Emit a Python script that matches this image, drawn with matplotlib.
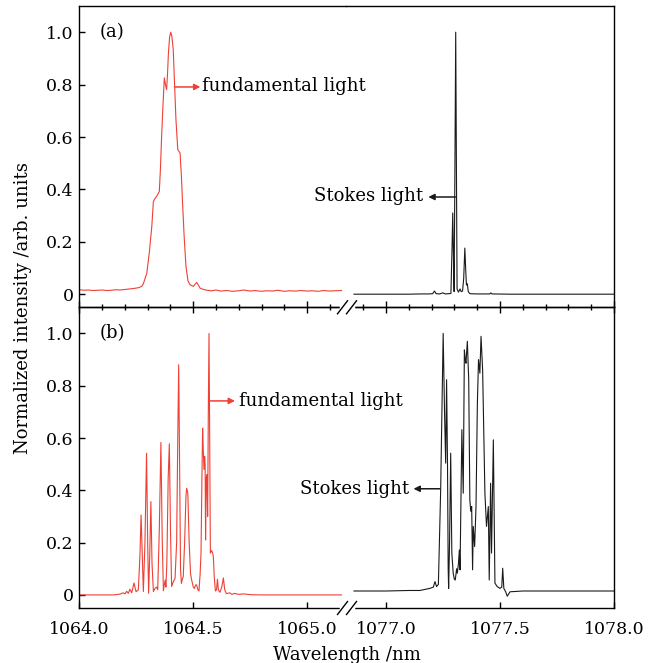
import matplotlib
matplotlib.use("Agg")
import matplotlib.pyplot as plt
from matplotlib.ticker import MultipleLocator, FixedLocator, FixedFormatter
from matplotlib.lines import Line2D

plt.rcParams['font.family'] = ['DejaVu Serif']

# ---- data ----
# (a) fundamental light (red), 1064 nm band
red_a_x = [1064.00, 1064.02, 1064.04, 1064.06, 1064.08, 1064.10, 1064.12, 1064.14,
           1064.16, 1064.18, 1064.20, 1064.22, 1064.24, 1064.26, 1064.274, 1064.281,
           1064.296, 1064.307, 1064.318, 1064.325, 1064.332, 1064.339, 1064.351,
           1064.356, 1064.361, 1064.367, 1064.373, 1064.378, 1064.383, 1064.387,
           1064.391, 1064.396, 1064.401, 1064.406, 1064.412, 1064.418, 1064.424,
           1064.432, 1064.442, 1064.448, 1064.453, 1064.460, 1064.468, 1064.477,
           1064.486, 1064.500, 1064.508, 1064.515, 1064.522, 1064.530, 1064.545,
           1064.56, 1064.58, 1064.60, 1064.62, 1064.65, 1064.67, 1064.70, 1064.72,
           1064.75, 1064.77, 1064.80, 1064.82, 1064.85, 1064.87, 1064.90, 1064.92,
           1064.95, 1064.97, 1065.00, 1065.02, 1065.05, 1065.07, 1065.10, 1065.12,
           1065.15]
red_a_y = [0.017, 0.015, 0.016, 0.014, 0.015, 0.016, 0.014, 0.015,
           0.017, 0.016, 0.018, 0.020, 0.022, 0.025, 0.030, 0.040,
           0.080, 0.158, 0.258, 0.354, 0.365, 0.373, 0.392,
           0.480, 0.600, 0.720, 0.826, 0.800, 0.781, 0.840,
           0.920, 0.980, 1.000, 0.985, 0.934, 0.800, 0.666,
           0.552, 0.539, 0.450, 0.348, 0.220, 0.106, 0.050,
           0.036, 0.030, 0.038, 0.045, 0.035, 0.023, 0.018,
           0.015, 0.013, 0.016, 0.012, 0.014, 0.011, 0.013, 0.016,
           0.012, 0.014, 0.011, 0.013, 0.012, 0.015, 0.011, 0.013,
           0.012, 0.014, 0.012, 0.013, 0.011, 0.014, 0.012, 0.013,
           0.014]

# (a) Stokes light (black), 1077 nm band
blk_a_x = [1076.86, 1077.00, 1077.10, 1077.15, 1077.19, 1077.205, 1077.213, 1077.220,
           1077.235, 1077.250, 1077.260, 1077.275, 1077.285, 1077.290, 1077.293,
           1077.296, 1077.299, 1077.303, 1077.306, 1077.309, 1077.312, 1077.318,
           1077.325, 1077.330, 1077.336, 1077.341, 1077.346, 1077.350, 1077.353,
           1077.357, 1077.361, 1077.368, 1077.40, 1077.455, 1077.46, 1077.465,
           1077.55, 1077.70, 1077.85, 1078.00]
blk_a_y = [0.000, 0.000, 0.000, 0.001, 0.001, 0.002, 0.012, 0.002,
           0.001, 0.005, 0.001, 0.002, 0.003, 0.180, 0.310,
           0.150, 0.010, 0.550, 1.000, 0.500, 0.020, 0.008,
           0.020, 0.010, 0.012, 0.060, 0.176, 0.090, 0.035,
           0.040, 0.010, 0.002, 0.001, 0.001, 0.005, 0.001,
           0.000, 0.000, 0.000, 0.000]

# (b) fundamental light (red)
red_b_x = [1064.000, 1064.150, 1064.178, 1064.193, 1064.200, 1064.208, 1064.215, 1064.222,
           1064.230, 1064.240, 1064.249, 1064.259, 1064.266, 1064.271, 1064.276, 1064.281,
           1064.288, 1064.295, 1064.300, 1064.304, 1064.309, 1064.314, 1064.319, 1064.325,
           1064.332, 1064.339, 1064.344, 1064.351, 1064.358, 1064.364, 1064.369, 1064.373,
           1064.377, 1064.380, 1064.384, 1064.390, 1064.395, 1064.400, 1064.405, 1064.412,
           1064.420, 1064.427, 1064.432, 1064.436, 1064.440, 1064.444, 1064.448, 1064.452,
           1064.456, 1064.462, 1064.468, 1064.471, 1064.476, 1064.482, 1064.488, 1064.493,
           1064.500, 1064.505, 1064.510, 1064.515, 1064.520, 1064.525, 1064.530, 1064.534,
           1064.538, 1064.541, 1064.544, 1064.547, 1064.550, 1064.552, 1064.554, 1064.557,
           1064.560, 1064.563, 1064.566, 1064.569, 1064.572, 1064.575, 1064.580, 1064.585,
           1064.588, 1064.592, 1064.597, 1064.602, 1064.606, 1064.610, 1064.617, 1064.625,
           1064.632, 1064.638, 1064.645, 1064.660, 1064.670, 1064.680, 1064.700, 1064.720,
           1064.750, 1064.800, 1065.150]
red_b_y = [0.000, 0.000, 0.003, 0.008, 0.004, 0.014, 0.006, 0.022,
           0.008, 0.046, 0.012, 0.020, 0.150, 0.306, 0.160, 0.013,
           0.200, 0.542, 0.200, 0.006, 0.150, 0.357, 0.120, 0.013,
           0.025, 0.030, 0.020, 0.250, 0.583, 0.200, 0.016, 0.040,
           0.057, 0.030, 0.120, 0.450, 0.578, 0.250, 0.032, 0.050,
           0.063, 0.200, 0.600, 0.880, 0.500, 0.100, 0.044, 0.060,
           0.070, 0.200, 0.380, 0.408, 0.390, 0.200, 0.080, 0.057,
           0.030, 0.025, 0.038, 0.038, 0.020, 0.015, 0.080, 0.160,
           0.450, 0.638, 0.550, 0.480, 0.530, 0.500, 0.210, 0.450,
           0.460, 0.300, 0.700, 1.000, 0.600, 0.160, 0.170, 0.160,
           0.147, 0.070, 0.015, 0.020, 0.060, 0.020, 0.010, 0.030,
           0.065, 0.020, 0.005, 0.008, 0.002, 0.006, 0.002, 0.004,
           0.001, 0.000, 0.000]

# (b) Stokes light (black)
blk_b_x = [1076.860, 1077.000, 1077.100, 1077.149, 1077.193, 1077.208, 1077.215, 1077.222,
           1077.230, 1077.240, 1077.251, 1077.257, 1077.262, 1077.266, 1077.270, 1077.273,
           1077.275, 1077.279, 1077.284, 1077.289, 1077.295, 1077.300, 1077.304, 1077.310,
           1077.313, 1077.318, 1077.322, 1077.325, 1077.333, 1077.339, 1077.344, 1077.348,
           1077.351, 1077.357, 1077.363, 1077.368, 1077.372, 1077.376, 1077.380, 1077.383,
           1077.389, 1077.395, 1077.401, 1077.406, 1077.412, 1077.417, 1077.424, 1077.434,
           1077.441, 1077.449, 1077.453, 1077.459, 1077.463, 1077.471, 1077.478, 1077.488,
           1077.500, 1077.508, 1077.512, 1077.517, 1077.525, 1077.532, 1077.544, 1077.600,
           1077.800, 1078.000]
blk_b_y = [0.015, 0.015, 0.017, 0.017, 0.025, 0.030, 0.051, 0.032,
           0.040, 0.400, 1.000, 0.700, 0.504, 0.823, 0.504, 0.100,
           0.025, 0.200, 0.542, 0.160, 0.083, 0.060, 0.057, 0.100,
           0.083, 0.120, 0.172, 0.096, 0.632, 0.389, 0.937, 0.900,
           0.886, 0.970, 0.823, 0.363, 0.320, 0.338, 0.096, 0.262,
           0.185, 0.338, 0.733, 0.900, 0.848, 0.989, 0.861, 0.389,
           0.262, 0.338, 0.057, 0.427, 0.160, 0.593, 0.045, 0.032,
           0.025, 0.030, 0.102, 0.025, 0.012, -0.005, 0.012, 0.015,
           0.015, 0.015]

y_ticks = [0, 0.2, 0.4, 0.6, 0.8, 1.0]
y_tick_labels = ['0', '0.2', '0.4', '0.6', '0.8', '1.0']
left_ticks = [1064.0, 1064.5, 1065.0]
right_ticks = [1077.0, 1077.5, 1078.0]
left_lim = (1064.0, 1065.170)
right_lim = (1076.825, 1078.0)

RED = '#ef4035'
BLK = '#1a1a1a'
FS = 13
TFS = 12.5

# ---- layout (pixel based) ----
W, H = 662, 663
fig = plt.figure(figsize=(W / 100, H / 100), dpi=100)

def fx(px):
    return px / W

def fy(py):
    return 1 - py / H

x_left, x_break, x_right = 79.3, 346.0, 614.0
y_top, y_mid, y_bot = 6.0, 307.3, 608.0

def make_ax(x0, x1, y0, y1):
    ax = fig.add_axes([fx(x0), fy(y1), fx(x1) - fx(x0), fy(y0) - fy(y1)])
    ax.set_facecolor('none')
    ax.set_ylim(-0.05, 1.10)
    for s in ax.spines.values():
        s.set_linewidth(1.0)
    return ax

ax_tl = make_ax(x_left, x_break, y_top, y_mid)
ax_tr = make_ax(x_break, x_right, y_top, y_mid)
ax_bl = make_ax(x_left, x_break, y_mid, y_bot)
ax_br = make_ax(x_break, x_right, y_mid, y_bot)

for ax in (ax_tl, ax_bl):
    ax.set_xlim(*left_lim)
    ax.spines['right'].set_visible(False)
    ax.xaxis.set_major_locator(FixedLocator(left_ticks))
    ax.yaxis.set_major_locator(FixedLocator(y_ticks))
    ax.yaxis.set_major_formatter(FixedFormatter(y_tick_labels))
    ax.tick_params(axis='y', direction='in', length=4, width=1, labelsize=TFS,
                   right=False, pad=4)
for ax in (ax_tr, ax_br):
    ax.set_xlim(*right_lim)
    ax.spines['left'].set_visible(False)
    ax.xaxis.set_major_locator(FixedLocator(right_ticks))
    ax.tick_params(axis='y', left=False, right=False, labelleft=False)

# top row: ticks crossing the shared middle line, no labels
for ax in (ax_tl, ax_tr):
    ax.xaxis.set_minor_locator(MultipleLocator(0.1))
    ax.tick_params(axis='x', which='major', direction='inout', length=9, width=1,
                   labelbottom=False, top=False)
    ax.tick_params(axis='x', which='minor', direction='inout', length=5, width=1,
                   top=False)
# bottom row: inward major ticks with labels
for ax in (ax_bl, ax_br):
    ax.tick_params(axis='x', which='major', direction='in', length=4, width=1,
                   labelsize=TFS, pad=9, top=False)
ax_bl.set_xticklabels(['1064.0', '1064.5', '1065.0'])
ax_br.set_xticklabels(['1077.0', '1077.5', '1078.0'])

# spectra
lw = 0.8
ax_tl.plot(red_a_x, red_a_y, color=RED, lw=lw)
ax_tr.plot(blk_a_x, blk_a_y, color=BLK, lw=lw)
ax_bl.plot(red_b_x, red_b_y, color=RED, lw=lw)
ax_br.plot(blk_b_x, blk_b_y, color=BLK, lw=lw)

# panel labels
ax_tl.text(1064.09, 1.0, '(a)', fontsize=FS, ha='left', va='center')
ax_bl.text(1064.09, 1.0, '(b)', fontsize=FS, ha='left', va='center')

arrow = dict(arrowstyle='-|>', lw=1.1, mutation_scale=9, shrinkA=0, shrinkB=0)

# annotations
ax_tl.annotate('', xy=(1064.531, 0.791), xytext=(1064.417, 0.791),
               arrowprops=dict(arrow, color=RED))
ax_tl.text(1064.537, 0.795, 'fundamental light', fontsize=FS, ha='left', va='center')
ax_tr.annotate('', xy=(1077.186, 0.371), xytext=(1077.305, 0.371),
               arrowprops=dict(arrow, color=BLK))
ax_tr.text(1077.162, 0.373, 'Stokes light', fontsize=FS, ha='right', va='center')

ax_bl.annotate('', xy=(1064.683, 0.742), xytext=(1064.574, 0.742),
               arrowprops=dict(arrow, color=RED))
ax_bl.text(1064.701, 0.742, 'fundamental light', fontsize=FS, ha='left', va='center')
ax_br.annotate('', xy=(1077.121, 0.406), xytext=(1077.237, 0.406),
               arrowprops=dict(arrow, color=BLK))
ax_br.text(1077.103, 0.406, 'Stokes light', fontsize=FS, ha='right', va='center')

# axis-break marks on the middle and bottom lines
for ys in (y_mid, y_bot):
    fig.add_artist(Line2D([fx(340.5), fx(352.5)], [fy(ys), fy(ys)], color='white',
                          lw=2.5, zorder=10))
    for dx in (0.0, 9.0):
        fig.add_artist(Line2D([fx(337.5 + dx), fx(347.5 + dx)],
                              [fy(ys + 6.5), fy(ys - 6.5)], color='black',
                              lw=1.0, zorder=11))

fig.text(fx(23.5), fy(308), 'Normalized intensity /arb. units', fontsize=FS,
         rotation=90, ha='center', va='center')
fig.text(fx(346.7), fy(646), 'Wavelength /nm', fontsize=FS, ha='center', va='top')

fig.savefig('out.png', dpi=100)
